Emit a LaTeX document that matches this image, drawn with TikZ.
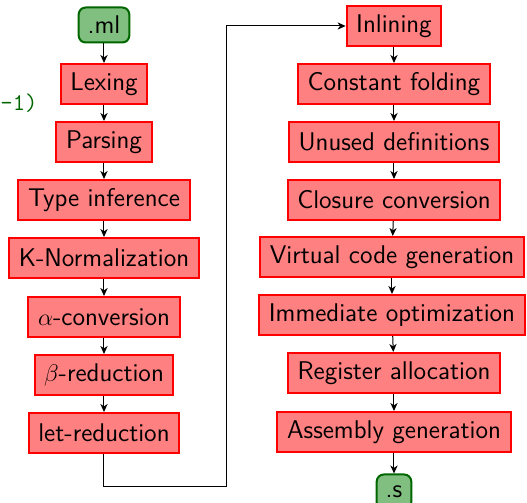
\documentclass[tikz,border=0pt]{standalone}
\usetikzlibrary{arrows.meta}
\begin{document}
\begin{tikzpicture}[x=0.5pt,y=-0.5pt,
  font=\sffamily\fontsize{12.8}{14}\selectfont,
  pass/.style={draw=red,fill=red!50,line width=1pt,inner xsep=4.8pt,minimum height=20pt},
  io/.style={draw=green!40!black,fill=green!50!black!50,line width=1pt,rounded corners=3.5pt,inner xsep=4.5pt,minimum height=17.5pt},
  flow/.style={-{Stealth[length=4pt,width=3.6pt,inset=1.2pt]},line width=0.5pt}]
\useasboundingbox (0,0) rectangle (527,503);
% left column
\node[io]   (ml)   at (104,25)  {.ml};
\node[pass] (lex)  at (104,84)  {Lexing};
\node[pass] (par)  at (104,142) {Parsing};
\node[pass] (typ)  at (104,200) {Type inference};
\node[pass] (knm)  at (104,258) {K-Normalization};
\node[pass] (alp)  at (104,317) {$\alpha$-conversion};
\node[pass] (bet)  at (104,375) {$\beta$-reduction};
\node[pass] (let)  at (104,433) {let-reduction};
% right column
\node[pass] (inl)  at (394,26)  {Inlining};
\node[pass] (cst)  at (394,84)  {Constant folding};
\node[pass] (unu)  at (394,142) {Unused definitions};
\node[pass] (clo)  at (394,200) {Closure conversion};
\node[pass] (vir)  at (392,257) {Virtual code generation};
\node[pass] (imm)  at (392,315) {Immediate optimization};
\node[pass] (reg)  at (394,373) {Register allocation};
\node[pass] (asm)  at (394,432) {Assembly generation};
\node[io]   (s)    at (394,492) {.s};
% stray text at the left edge
\node[anchor=west,inner sep=0pt,text=green!40!black,font=\ttfamily\fontsize{12}{14}\selectfont] (frag) at (0,103) {-1)};
% connectors
\draw[flow] (ml) -- (lex);
\draw[flow] (lex) -- (par);
\draw[flow] (par) -- (typ);
\draw[flow] (typ) -- (knm);
\draw[flow] (knm) -- (alp);
\draw[flow] (alp) -- (bet);
\draw[flow] (bet) -- (let);
\coordinate (bend) at (227,487);
\draw[flow] (let.south) |- (bend) |- (inl.west);
\draw[flow] (inl) -- (cst);
\draw[flow] (cst) -- (unu);
\draw[flow] (unu) -- (clo);
\draw[flow] (clo) -- (vir);
\draw[flow] (vir) -- (imm);
\draw[flow] (imm) -- (reg);
\draw[flow] (reg) -- (asm);
\draw[flow] (asm) -- (s);
\end{tikzpicture}
\end{document}
